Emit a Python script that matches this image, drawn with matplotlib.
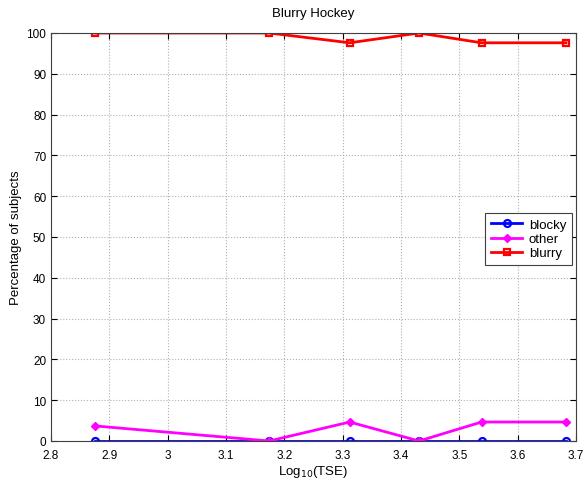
import matplotlib
matplotlib.use('Agg')
import matplotlib.pyplot as plt

# log10(TSE) values and percentages
tse = [2.875, 3.174, 3.312, 3.431, 3.538, 3.683]
blocky = [0, 0, 0, 0, 0, 0]
other = [3.7, 0, 4.65, 0, 4.65, 4.65]
blurry = [100, 100, 97.6, 100, 97.6, 97.6]

plt.rcParams['font.family'] = ['Liberation Sans', 'DejaVu Sans']

fig = plt.figure(figsize=(5.84, 4.81), dpi=100)
ax = fig.add_axes([51 / 584, 1 - 442 / 481, (576 - 51) / 584, (442 - 34) / 481])

ax.plot(tse, blocky, color='#0000ff', lw=2, marker='o', ms=5, mfc='none', mew=1.6, label='blocky')
ax.plot(tse, other, color='#ff00ff', lw=2, marker='D', ms=4.5, mfc='#ff00ff', mew=1, label='other')
ax.plot(tse, blurry, color='#ff0000', lw=2, marker='s', ms=5, mfc='none', mew=1.6, label='blurry')

ax.set_xlim(2.8, 3.7)
ax.set_ylim(0, 100)
ax.set_xticks([2.8, 2.9, 3.0, 3.1, 3.2, 3.3, 3.4, 3.5, 3.6, 3.7])
ax.set_xticklabels(['2.8', '2.9', '3', '3.1', '3.2', '3.3', '3.4', '3.5', '3.6', '3.7'])
ax.set_yticks(range(0, 101, 10))
ax.grid(True, ls=':', color='#b0b0b0', lw=0.8)
ax.tick_params(direction='in', top=True, right=True, labelsize=8.5, length=4)
ax.tick_params(axis='x', pad=6)
for s in ax.spines.values():
    s.set_linewidth(0.8)
    s.set_color('#404040')

ax.set_title('Blurry Hockey', fontsize=9.5, pad=12)
ax.set_xlabel('Log$_{10}$(TSE)', fontsize=9.5, labelpad=1)
ax.set_ylabel('Percentage of subjects', fontsize=9.5, labelpad=3)

leg = ax.legend(loc='center', bbox_to_anchor=(0.9095, 0.495), fontsize=9.5,
                fancybox=False, edgecolor='#404040', framealpha=1,
                handlelength=2.4, handletextpad=0.5, borderpad=0.4, labelspacing=0.15)
leg.get_frame().set_linewidth(0.8)

fig.savefig('out.png', dpi=100)
